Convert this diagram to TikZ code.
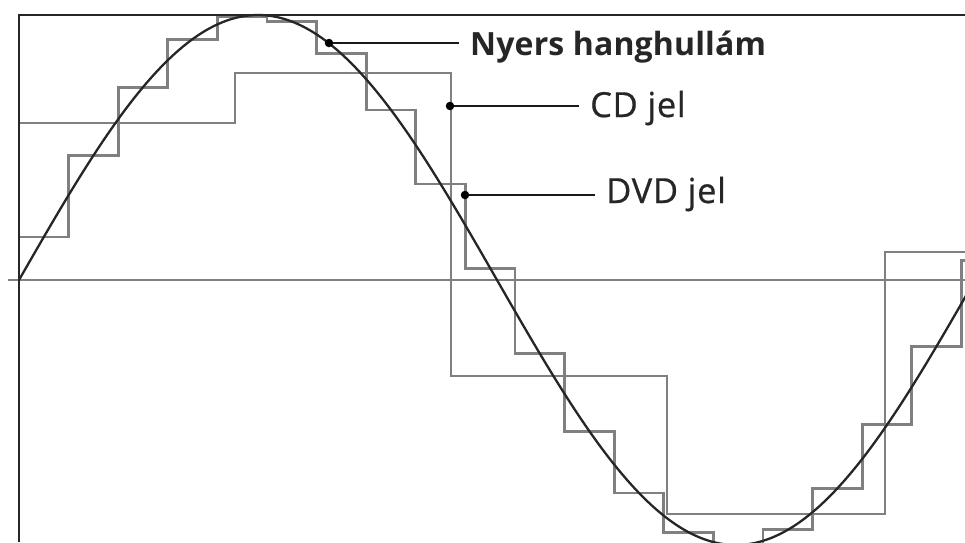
\documentclass[tikz,border=0pt]{standalone}
\usepackage{fontspec}
\setmainfont{Open Sans}[LetterSpace=2,FakeBold=0.6]
\newfontfamily\labelsemi{Open Sans Bold}[LetterSpace=0.5]
\begin{document}
\begin{tikzpicture}[x=1pt,y=-1pt,
  frameline/.style={line width=2.4pt,black!85},
  axisline/.style={line width=2.6pt,black!50},
  stairs/.style={line width=2.8pt,black!50,line join=miter},
  wave/.style={line width=2.3pt,black!85},
  pin/.style={circle,fill=black,inner sep=0pt,minimum size=8.5pt},
  pinline/.style={line width=2pt,black!90},
  tag/.style={anchor=base west,inner xsep=11pt,inner ysep=0pt,font=\fontsize{34.5}{40}\selectfont,text=black!85}]
  \useasboundingbox (0,0) rectangle (965,542);
  \begin{scope}
    \clip (0,0) rectangle (965,542);
    % zero line
    \draw[axisline] (8,280) -- (965,280);
    % CD signal: coarse sample-and-hold steps
    \draw[stairs] (19,123) -- (235,123) -- (235,73) -- (451,73) -- (451,376)
      -- (667,376) -- (667,514) -- (885,514) -- (885,252) -- (970,252);
    % DVD signal: fine sample-and-hold steps (360/956 deg per unit)
    \draw[stairs] (19,240)
      \foreach \k [evaluate=\k as \xa using 19+49.6*\k,
                   evaluate=\k as \ya using 280-265*sin(0.376569*(49.6*\k+24.8))] in {0,...,19}
      { -- (\xa,\ya) -- ({\xa+49.6},\ya) };
    % raw sound wave
    \draw[wave] plot[domain=19:975,samples=240,smooth] (\x,{280-265*sin(0.376569*(\x-19))});
    % frame
    \draw[frameline] (19,542) -- (19,15) -- (965,15);
  \end{scope}
  % labels with pointers
  \node[pin] (pwave) at (329,43) {};
  \node[pin] (pcd) at (450,106) {};
  \node[pin] (pdvd) at (465,195) {};
  \node[tag,font=\fontsize{32}{40}\labelsemi] (twave) at (459,55) {Nyers hanghullám};
  \node[tag] (tcd) at (579,117) {CD jel};
  \node[tag] (tdvd) at (595,203) {DVD jel};
  \draw[pinline] (pwave) -- (pwave -| twave.west);
  \draw[pinline] (pcd) -- (pcd -| tcd.west);
  \draw[pinline] (pdvd) -- (pdvd -| tdvd.west);
\end{tikzpicture}
\end{document}
